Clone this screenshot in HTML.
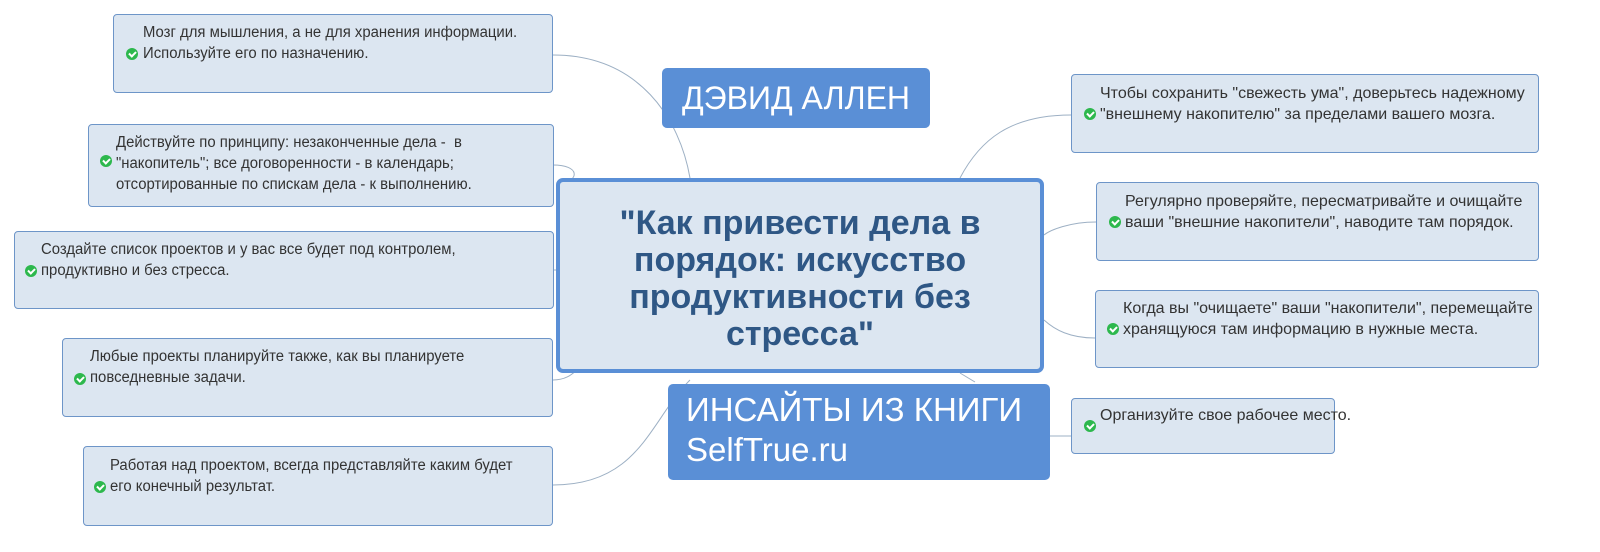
<!DOCTYPE html>
<html><head><meta charset="utf-8"><style>
body{margin:0;width:1600px;height:552px;background:#fff;position:relative;overflow:hidden;font-family:"Liberation Sans","DejaVu Sans",sans-serif}
.b{position:absolute;box-sizing:border-box;background:#dce6f1;border:1.5px solid #6d95c8;border-radius:4px}
.t{position:absolute;font-size:15.5px;color:#333;line-height:21px;white-space:nowrap;transform:scaleX(.96);transform-origin:left}
.r{font-size:16px;transform:none}
.c{position:absolute;width:12px;height:12px;border-radius:50%;background:#2db84d}
.c:after{content:"";position:absolute;left:3px;top:2.5px;width:5px;height:3px;border-left:2px solid #fff;border-bottom:2px solid #fff;transform:rotate(-45deg)}
.blue{position:absolute;background:#5a8fd6;border-radius:5px;color:#fff}
</style></head><body>
<svg width="1600" height="552" style="position:absolute;left:0;top:0" fill="none" stroke="#9db0c4" stroke-width="1">
<path d="M553 55 C640 55 680 120 690 178"/>
<path d="M553 165 C580 165 580 180 560 185"/>
<path d="M553 270 L558 270"/>
<path d="M553 380 C570 380 575 370 580 368"/>
<path d="M553 485 C640 485 650 420 690 380"/>
<path d="M1071 115 C1010 115 980 140 960 178"/>
<path d="M1096 222 C1070 222 1050 230 1044 235"/>
<path d="M1095 338 C1070 338 1055 330 1044 320"/>
<path d="M1071 436 L1050 436"/>
<path d="M960 373 L975 382"/>
</svg>
<div class="b" style="left:113px;top:14px;width:440px;height:79px"></div>
<div class="c" style="left:126px;top:48px"></div>
<div class="t" style="left:143px;top:22px">Мозг для мышления, а не для хранения информации.<br>Используйте его по назначению.</div>

<div class="b" style="left:88px;top:124px;width:466px;height:83px"></div>
<div class="c" style="left:100px;top:155px"></div>
<div class="t" style="left:116px;top:132px">Действуйте по принципу: незаконченные дела -&nbsp; в<br>"накопитель"; все договоренности - в календарь;<br>отсортированные по спискам дела - к выполнению.</div>

<div class="b" style="left:14px;top:231px;width:540px;height:78px"></div>
<div class="c" style="left:25px;top:265px"></div>
<div class="t" style="left:41px;top:239px">Создайте список проектов и у вас все будет под контролем,<br>продуктивно и без стресса.</div>

<div class="b" style="left:62px;top:338px;width:491px;height:79px"></div>
<div class="c" style="left:74px;top:373px"></div>
<div class="t" style="left:90px;top:346px">Любые проекты планируйте также, как вы планируете<br>повседневные задачи.</div>

<div class="b" style="left:83px;top:446px;width:470px;height:80px"></div>
<div class="c" style="left:94px;top:481px"></div>
<div class="t" style="left:110px;top:455px">Работая над проектом, всегда представляйте каким будет<br>его конечный результат.</div>

<div class="b" style="left:1071px;top:74px;width:468px;height:79px"></div>
<div class="c" style="left:1084px;top:108px"></div>
<div class="t r" style="left:1100px;top:83px">Чтобы сохранить "свежесть ума", доверьтесь надежному<br>"внешнему накопителю" за пределами вашего мозга.</div>

<div class="b" style="left:1096px;top:182px;width:443px;height:79px"></div>
<div class="c" style="left:1109px;top:216px"></div>
<div class="t r" style="left:1125px;top:191px">Регулярно проверяйте, пересматривайте и очищайте<br>ваши "внешние накопители", наводите там порядок.</div>

<div class="b" style="left:1095px;top:290px;width:444px;height:78px"></div>
<div class="c" style="left:1107px;top:323px"></div>
<div class="t r" style="left:1123px;top:298px">Когда вы "очищаете" ваши "накопители", перемещайте<br>хранящуюся там информацию в нужные места.</div>

<div class="b" style="left:1071px;top:398px;width:264px;height:56px"></div>
<div class="c" style="left:1084px;top:420px"></div>
<div class="t r" style="left:1100px;top:405px">Организуйте свое рабочее место.</div>

<div class="b" style="left:556px;top:178px;width:488px;height:195px;border:4px solid #5a8fd6;border-radius:7px"></div>
<div style="position:absolute;left:556px;top:205px;width:488px;text-align:center;font-weight:bold;font-size:34px;line-height:37px;color:#2f5785;">"Как привести дела в<br>порядок: искусство<br>продуктивности без<br>стресса"</div>

<div class="blue" style="left:662px;top:68px;width:268px;height:60px;font-size:32px;line-height:60px;text-align:center">ДЭВИД АЛЛЕН</div>
<div class="blue" style="left:668px;top:384px;width:382px;height:96px;font-size:33px;line-height:40px;padding:6px 0 0 18px;box-sizing:border-box">ИНСАЙТЫ ИЗ КНИГИ<br>SelfTrue.ru</div>
</body></html>
